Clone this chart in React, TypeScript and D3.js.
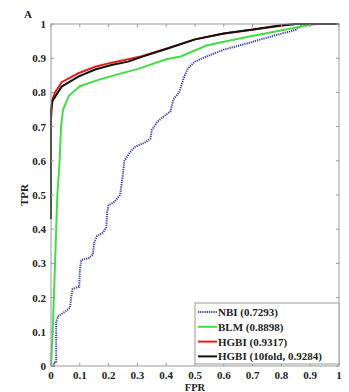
import React from "react";
import * as d3 from "d3";

const xTicks = [0, 0.1, 0.2, 0.3, 0.4, 0.5, 0.6, 0.7, 0.8, 0.9, 1];
const yTicks = [0, 0.1, 0.2, 0.3, 0.4, 0.5, 0.6, 0.7, 0.8, 0.9, 1];
const tickLabels = ["0", "0.1", "0.2", "0.3", "0.4", "0.5", "0.6", "0.7", "0.8", "0.9", "1"];

const nbiFpr = [0, 0.01, 0.01, 0.018, 0.018, 0.025, 0.05, 0.066, 0.07, 0.075, 0.09, 0.098, 0.1, 0.105, 0.13, 0.145, 0.15, 0.16, 0.18, 0.192, 0.195, 0.2, 0.22, 0.24, 0.248, 0.255, 0.27, 0.29, 0.33, 0.345, 0.35, 0.37, 0.4, 0.415, 0.425, 0.445, 0.46, 0.475, 0.5, 0.54, 0.6, 0.68, 0.77, 0.85, 0.875, 1];
const nbiTpr = [0, 0, 0.01, 0.01, 0.13, 0.145, 0.16, 0.17, 0.2, 0.225, 0.23, 0.232, 0.28, 0.31, 0.315, 0.325, 0.36, 0.38, 0.39, 0.405, 0.45, 0.47, 0.48, 0.5, 0.55, 0.6, 0.62, 0.64, 0.655, 0.665, 0.69, 0.715, 0.735, 0.745, 0.78, 0.8, 0.84, 0.87, 0.89, 0.905, 0.925, 0.943, 0.965, 0.983, 1, 1];

const blmFpr = [0, 0.006, 0.014, 0.022, 0.03, 0.035, 0.042, 0.062, 0.1, 0.17, 0.24, 0.3, 0.4, 0.45, 0.54, 0.6, 0.68, 0.78, 0.87, 0.92, 1];
const blmTpr = [0, 0.1, 0.3, 0.5, 0.6, 0.7, 0.75, 0.79, 0.818, 0.838, 0.855, 0.868, 0.897, 0.905, 0.937, 0.948, 0.962, 0.978, 0.993, 1, 1];

const hgbiFpr = [0, 0.005, 0.014, 0.037, 0.095, 0.153, 0.21, 0.268, 0.315, 0.4, 0.5, 0.6, 0.7, 0.78, 0.85, 1];
const hgbiTpr = [0.72, 0.78, 0.8, 0.83, 0.856, 0.875, 0.887, 0.897, 0.906, 0.928, 0.955, 0.972, 0.983, 0.993, 1, 1];

const h10Fpr = [0, 0, 0.005, 0.014, 0.037, 0.095, 0.153, 0.21, 0.268, 0.315, 0.4, 0.5, 0.6, 0.7, 0.8, 0.85, 1];
const h10Tpr = [0.43, 0.75, 0.775, 0.787, 0.817, 0.846, 0.867, 0.88, 0.89, 0.904, 0.927, 0.955, 0.972, 0.984, 0.996, 1, 1];

const seriesNames = ["NBI (0.7293)", "BLM (0.8898)", "HGBI (0.9317)", "HGBI (10fold, 0.9284)"];
const seriesColors = ["#3a3ab8", "#44dd44", "#e02020", "#111111"];

export default function App() {
  const W = 349, H = 392;
  const left = 51, right = 339, top = 24, bottom = 366;
  const x = d3.scaleLinear().domain([0, 1]).range([left, right]);
  const y = d3.scaleLinear().domain([0, 1]).range([bottom, top]);
  const line = d3.line<[number, number]>().x(d => x(d[0])).y(d => y(d[1]));
  const zip = (a: number[], b: number[]) => a.map((v, i) => [v, b[i]] as [number, number]);
  const series = [
    { d: zip(nbiFpr, nbiTpr), dash: "1.2,1", w: 2 },
    { d: zip(blmFpr, blmTpr), dash: undefined, w: 2 },
    { d: zip(hgbiFpr, hgbiTpr), dash: undefined, w: 2 },
    { d: zip(h10Fpr, h10Tpr), dash: undefined, w: 2 },
  ];
  const font = "'Liberation Serif', 'Times New Roman', serif";
  const axisColor = "#9a9a9a";
  const lgX = 195, lgY = 303, lgW = 144, lgH = 61;
  return (
    <svg width={W} height={H} style={{ position: "absolute", left: 0, top: 0, background: "#fff" }} fontFamily={font} fontWeight="bold">
      <rect x={0} y={0} width={W} height={H} fill="#fff" />
      {series.map((s, i) => (
        <path key={"s" + i} d={line(s.d) || ""} fill="none" stroke={seriesColors[i]} strokeWidth={s.w} strokeDasharray={s.dash} />
      ))}
      <rect x={left} y={top} width={right - left} height={bottom - top} fill="none" stroke={axisColor} strokeWidth={1} />
      {xTicks.map((t, i) => (
        <g key={"x" + i}>
          <line x1={x(t)} x2={x(t)} y1={bottom} y2={bottom - 3} stroke={axisColor} />
          <line x1={x(t)} x2={x(t)} y1={top} y2={top + 3} stroke={axisColor} />
          <text x={x(t)} y={bottom + 13} fontSize={11} textAnchor="middle" fill="#222">{tickLabels[i]}</text>
        </g>
      ))}
      {yTicks.map((t, i) => (
        <g key={"y" + i}>
          <line x1={left} x2={left + 3} y1={y(t)} y2={y(t)} stroke={axisColor} />
          <line x1={right} x2={right - 3} y1={y(t)} y2={y(t)} stroke={axisColor} />
          <text x={left - 5} y={y(t) + 4} fontSize={11} textAnchor="end" fill="#222">{tickLabels[i]}</text>
        </g>
      ))}
      <rect x={lgX} y={lgY} width={lgW} height={lgH} fill="#fff" stroke={axisColor} />
      {seriesNames.map((n, i) => {
        const yy = lgY + 9 + i * 14.8;
        return (
          <g key={"l" + i}>
            <line x1={lgX + 3} x2={lgX + 22} y1={yy} y2={yy} stroke={seriesColors[i]} strokeWidth={2} strokeDasharray={i === 0 ? "1.2,1" : undefined} />
            <text x={lgX + 23} y={yy + 4} fontSize={11} fill="#222">{n}</text>
          </g>
        );
      })}
      <text x={(left + right) / 2} y={391} fontSize={10.5} textAnchor="middle" fill="#222">FPR</text>
      <text transform={`translate(28,${(top + bottom) / 2}) rotate(-90)`} fontSize={11} textAnchor="middle" fill="#222">TPR</text>
      <text x={24} y={18} fontSize={11} fill="#222">A</text>
    </svg>
  );
}
